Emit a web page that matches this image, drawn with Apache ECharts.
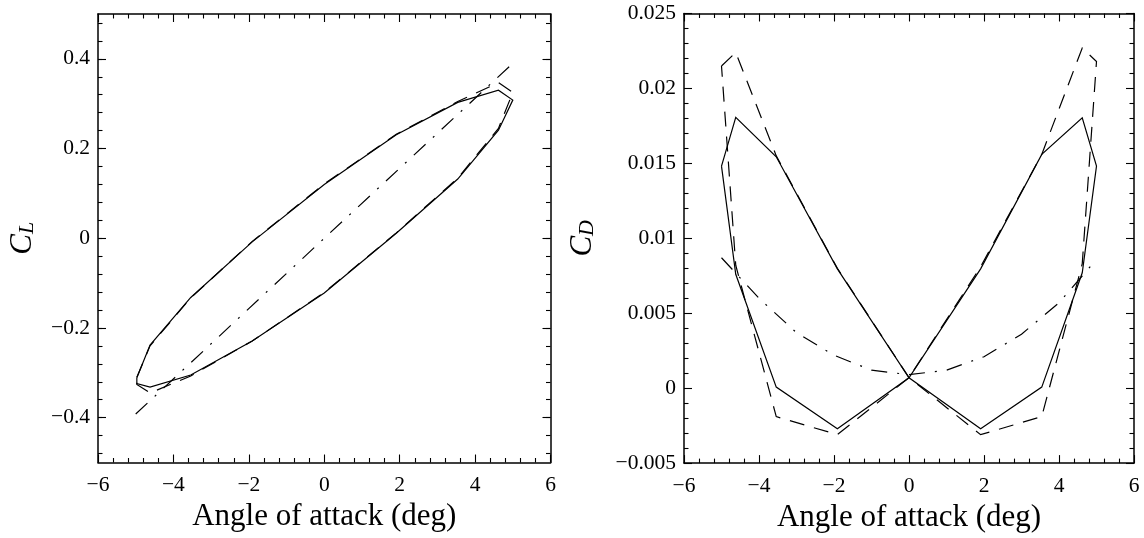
<!DOCTYPE html>
<html><head><meta charset="utf-8">
<script src="https://cdn.jsdelivr.net/npm/echarts@6/dist/echarts.min.js"></script>
<style>html,body{margin:0;padding:0;background:#fff}#c{width:1144px;height:538px}</style>
</head><body><div id="c"></div>
<script>
// ---- data ----
const alphaLoop = [-4.97, -4.62, -3.54, -1.91, 0, 1.91, 3.54, 4.62, 5, 4.62, 3.54, 1.91, 0, -1.91, -3.54, -4.62, -4.97, -4.97];
const clSolid   = [-0.311, -0.238, -0.132, -0.008, 0.120, 0.231, 0.303, 0.330, 0.308, 0.241, 0.132, 0.011, -0.122, -0.229, -0.305, -0.332, -0.324, -0.311];
const clDashed  = [-0.310, -0.240, -0.133, -0.007, 0.121, 0.232, 0.305, 0.347, 0.325, 0.245, 0.134, 0.012, -0.121, -0.229, -0.307, -0.345, -0.326, -0.310];
const alphaClLine = [-5, 0, 5];
const clLine      = [-0.392, 0, 0.390];

const alphaCd  = [-5, -4.62, -3.54, -1.91, 0, 1.91, 3.54, 4.62, 5, 4.62, 3.54, 1.91, 0, -1.91, -3.54, -4.62, -5];
const cdSolid  = [0.01482, 0.01807, 0.01544, 0.00796, 0.00069, -0.00271, 0.00007, 0.0077, 0.01482, 0.01804, 0.0156, 0.00796, 0.00069, -0.00271, 0.00007, 0.0076, 0.01482];
const cdDashed = [0.0215, 0.0224, 0.0155, 0.0080, 0.0007, -0.0031, -0.0019, 0.0083, 0.0218, 0.0227, 0.0156, 0.0081, 0.0007, -0.0031, -0.0019, 0.0082, 0.0215];
const alphaCdLine = [-5, -4, -3, -2, -1, 0, 1, 2, 3, 4, 4.9];
const cdLine      = [0.0087, 0.0060, 0.0037, 0.0022, 0.0012, 0.0009, 0.0012, 0.0021, 0.0036, 0.0057, 0.0083];

const clTickLabels = [-0.4, -0.2, 0, 0.2, 0.4];
const clMinorStep = 0.04;
const xLabel = 'Angle of attack (deg)';

// ---- helpers ----
const pairs = (xs, ys) => xs.map((x, i) => [x, ys[i]]);
const fmt = v => { if (Math.abs(v) < 1e-12) return '0'; return String(+v.toFixed(4)).replace('-', '\u2212'); };
const clMinor = [];
for (let k = -12; k <= 12; k++) clMinor.push(+(k * clMinorStep).toFixed(4));

const FONT = 'Liberation Serif';
const labelStyle = { color: '#000', fontFamily: FONT, fontSize: 21.5 };
const lineAx = { show: true, onZero: false, lineStyle: { color: '#000', width: 1.5 } };
const MAJ = 8, MIN = 4.5;

function xAx(grid, pos, labels) {
  return {
    type: 'value', gridIndex: grid, position: pos, min: -6, max: 6, interval: 2,
    axisLine: lineAx,
    axisTick: { show: true, inside: true, length: MAJ, lineStyle: { color: '#000', width: 1.1 } },
    minorTick: { show: true, splitNumber: 5, length: MIN, lineStyle: { color: '#000', width: 1.1 } },
    axisLabel: labels ? Object.assign({ show: true, margin: 12, formatter: fmt }, labelStyle) : { show: false },
    splitLine: { show: false }, minorSplitLine: { show: false },
    name: labels ? xLabel : '', nameLocation: 'middle', nameGap: 38,
    nameTextStyle: { color: '#000', fontFamily: FONT, fontSize: 31 }
  };
}
function clAx(pos, kind, name) {
  const major = kind === 'major';
  return {
    type: 'value', gridIndex: 0, position: pos, min: -0.5, max: 0.5,
    axisLine: major ? lineAx : { show: false, onZero: false },
    axisTick: { show: true, inside: true, length: major ? MAJ : MIN, customValues: major ? clTickLabels : clMinor, lineStyle: { color: '#000', width: 1.1 } },
    axisLabel: (major && pos === 'left') ? Object.assign({ show: true, margin: 8, customValues: clTickLabels, formatter: fmt }, labelStyle) : { show: false },
    splitLine: { show: false },
    name: name || '', nameLocation: 'middle', nameRotate: 90, nameGap: 60,
    nameTextStyle: { color: '#000', fontFamily: FONT, rich: {
      c: { fontSize: 31, fontStyle: 'italic', fontFamily: FONT, color: '#000', lineHeight: 31 },
      s: { fontSize: 22, fontStyle: 'italic', fontFamily: FONT, color: '#000', verticalAlign: 'bottom', lineHeight: 22 } } }
  };
}
function cdAx(pos, name) {
  return {
    type: 'value', gridIndex: 1, position: pos, min: -0.005, max: 0.025, interval: 0.005,
    axisLine: lineAx,
    axisTick: { show: true, inside: true, length: MAJ, lineStyle: { color: '#000', width: 1.1 } },
    minorTick: { show: true, splitNumber: 5, length: MIN, lineStyle: { color: '#000', width: 1.1 } },
    axisLabel: pos === 'left' ? Object.assign({ show: true, margin: 8, formatter: fmt }, labelStyle) : { show: false },
    splitLine: { show: false }, minorSplitLine: { show: false },
    name: name || '', nameLocation: 'middle', nameRotate: 90, nameGap: 86,
    nameTextStyle: { color: '#000', fontFamily: FONT, rich: {
      c: { fontSize: 31, fontStyle: 'italic', fontFamily: FONT, color: '#000', lineHeight: 31 },
      s: { fontSize: 22, fontStyle: 'italic', fontFamily: FONT, color: '#000', verticalAlign: 'bottom', lineHeight: 22 } } }
  };
}
function ser(x, y, xs, ys, type) {
  return {
    type: 'line', xAxisIndex: x, yAxisIndex: y, data: pairs(xs, ys),
    showSymbol: false, symbol: 'none', smooth: false, silent: true, clip: true,
    lineStyle: { color: '#000', width: 1.2, type: type, cap: 'butt', join: 'miter' }
  };
}

const chart = echarts.init(document.getElementById('c'), null, { renderer: 'canvas' });
chart.setOption({
  backgroundColor: '#fff',
  animation: false,
  grid: [
    { left: 98, top: 14, width: 452.5, height: 448.5, containLabel: false },
    { left: 684, top: 13.5, width: 450, height: 450, containLabel: false }
  ],
  xAxis: [xAx(0, 'bottom', true), xAx(0, 'top', false), xAx(1, 'bottom', true), xAx(1, 'top', false)],
  yAxis: [
    clAx('left', 'major', '{c|C}{s|L}'), clAx('left', 'minor'), clAx('right', 'major'), clAx('right', 'minor'),
    cdAx('left', '{c|C}{s|D}'), cdAx('right')
  ],
  series: [
    ser(0, 0, alphaLoop, clSolid, 'solid'),
    ser(0, 0, alphaLoop, clDashed, [15, 10]),
    ser(0, 0, alphaClLine, clLine, [16, 10, 2, 10]),
    ser(2, 4, alphaCd, cdSolid, 'solid'),
    ser(2, 4, alphaCd, cdDashed, [15, 10]),
    ser(2, 4, alphaCdLine, cdLine, [16, 10, 2, 10])
  ]
});
</script></body></html>
